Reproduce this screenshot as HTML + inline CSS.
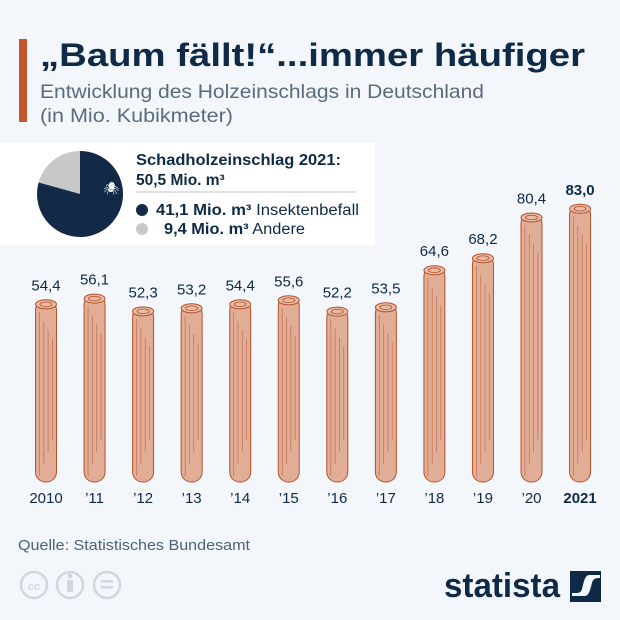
<!DOCTYPE html>
<html><head><meta charset="utf-8"><style>
body{margin:0;background:#f3f6fa;}
svg{display:block;font-family:"Liberation Sans",sans-serif;}
</style></head><body>
<svg width="620" height="620" viewBox="0 0 620 620">
<rect width="620" height="620" fill="#f3f6fa"/>
<rect x="19" y="39" width="8" height="83" fill="#c4562a"/>
<text x="40" y="66" font-size="32" font-weight="bold" fill="#0f2a47" textLength="545" lengthAdjust="spacingAndGlyphs">„Baum fällt!“...immer häufiger</text>
<text x="40" y="98" font-size="19.5" fill="#5a6b7d" textLength="444" lengthAdjust="spacingAndGlyphs">Entwicklung des Holzeinschlags in Deutschland</text>
<text x="40" y="122" font-size="19.5" fill="#5a6b7d" textLength="193" lengthAdjust="spacingAndGlyphs">(in Mio. Kubikmeter)</text>
<rect x="0" y="143" width="375" height="102" fill="#ffffff"/>
<circle cx="80" cy="194" r="43" fill="#c8c8c8"/>
<path d="M80 194 L80 151 A43 43 0 1 1 38.6 182.5 Z" fill="#122a48"/>
<text x="103" y="193" font-size="13" fill="#fff">🕷</text>
<text x="136" y="165" font-size="15.5" font-weight="bold" fill="#0f2a47" textLength="205" lengthAdjust="spacingAndGlyphs">Schadholzeinschlag 2021:</text>
<text x="136" y="185" font-size="15.5" font-weight="bold" fill="#0f2a47">50,5 Mio. m³</text>
<line x1="136" y1="192" x2="356" y2="192" stroke="#b8c4cf" stroke-width="1"/>
<circle cx="142" cy="210" r="6" fill="#122a48"/>
<text x="156" y="215" font-size="15.5" fill="#0f2a47" textLength="203" lengthAdjust="spacingAndGlyphs"><tspan font-weight="bold">41,1 Mio. m³</tspan> Insektenbefall</text>
<circle cx="142" cy="229" r="6" fill="#c8c8c8"/>
<text x="164" y="234" font-size="15.5" fill="#0f2a47" textLength="141" lengthAdjust="spacingAndGlyphs"><tspan font-weight="bold">9,4 Mio. m³</tspan> Andere</text>
<g id="logs"></g>
<text x="18" y="550" font-size="15" fill="#4d6178" textLength="232" lengthAdjust="spacingAndGlyphs">Quelle: Statistisches Bundesamt</text>
<g fill="none" stroke="#cfd8e0" stroke-width="2.5">
<circle cx="34" cy="585" r="13"/><circle cx="70" cy="585" r="13"/><circle cx="107" cy="585" r="13"/>
</g>
<text x="34" y="590" font-size="11" font-weight="bold" fill="#cfd8e0" text-anchor="middle">cc</text>
<rect x="67" y="580" width="6" height="12" fill="#cfd8e0"/><circle cx="70" cy="576" r="2.5" fill="#cfd8e0"/>
<rect x="101" y="580" width="12" height="2.5" fill="#cfd8e0"/><rect x="101" y="586" width="12" height="2.5" fill="#cfd8e0"/>
<text x="444" y="597" font-size="34" font-weight="bold" fill="#0f2a47" textLength="116" lengthAdjust="spacingAndGlyphs">statista</text>
<rect x="570" y="571" width="31" height="31" fill="#0f2a47"/>
<path d="M572 596 L585 596 Q588 596 590 590 L592 583 Q593 578 598 578 L600 578 L600 575 L589 575 Q586 575 584 581 L582 589 Q581 593 577 593 L572 593 Z" fill="#f3f6fa"/>
</svg>
<script>
(function(){
var vals=[54.4,56.1,52.3,53.2,54.4,55.6,52.2,53.5,64.6,68.2,80.4,83.0];
var yrs=["2010","’11","’12","’13","’14","’15","’16","’17","’18","’19","’20","2021"];
var g=document.getElementById("logs"),h="";
for(var i=0;i<12;i++){
 var cx=46+i*48.55,bot=482,tp=bot-vals[i]*3.34,w=21,x=cx-w/2;
 h+='<rect x="'+x+'" y="'+tp+'" width="'+w+'" height="'+(bot-tp)+'" rx="10" fill="#e1ad96" stroke="#b4532a" stroke-width="1"/>';
 for(var k=0;k<4;k++){var lx=x+4+k*4.3;h+='<line x1="'+lx+'" y1="'+(tp+12+k*9)+'" x2="'+lx+'" y2="'+(bot-6-k*12)+'" stroke="#b4532a" stroke-width="0.8" opacity="0.6"/>';}
 h+='<ellipse cx="'+cx+'" cy="'+(tp+4)+'" rx="10.5" ry="4.5" fill="#e8bba6" stroke="#b4532a" stroke-width="1"/>';
 h+='<ellipse cx="'+cx+'" cy="'+(tp+4)+'" rx="6" ry="2.3" fill="none" stroke="#b4532a" stroke-width="0.8"/>';
 h+='<text x="'+cx+'" y="'+(tp-10)+'" font-size="15" text-anchor="middle" fill="#0f2a47"'+(i==11?' font-weight="bold"':'')+'>'+vals[i].toFixed(1).replace(".",",")+'</text>';
 h+='<text x="'+cx+'" y="503" font-size="15" text-anchor="middle" fill="#0f2a47"'+(i==11?' font-weight="bold"':'')+'>'+yrs[i]+'</text>';
}
g.innerHTML=h;
})();
</script>
</body></html>
